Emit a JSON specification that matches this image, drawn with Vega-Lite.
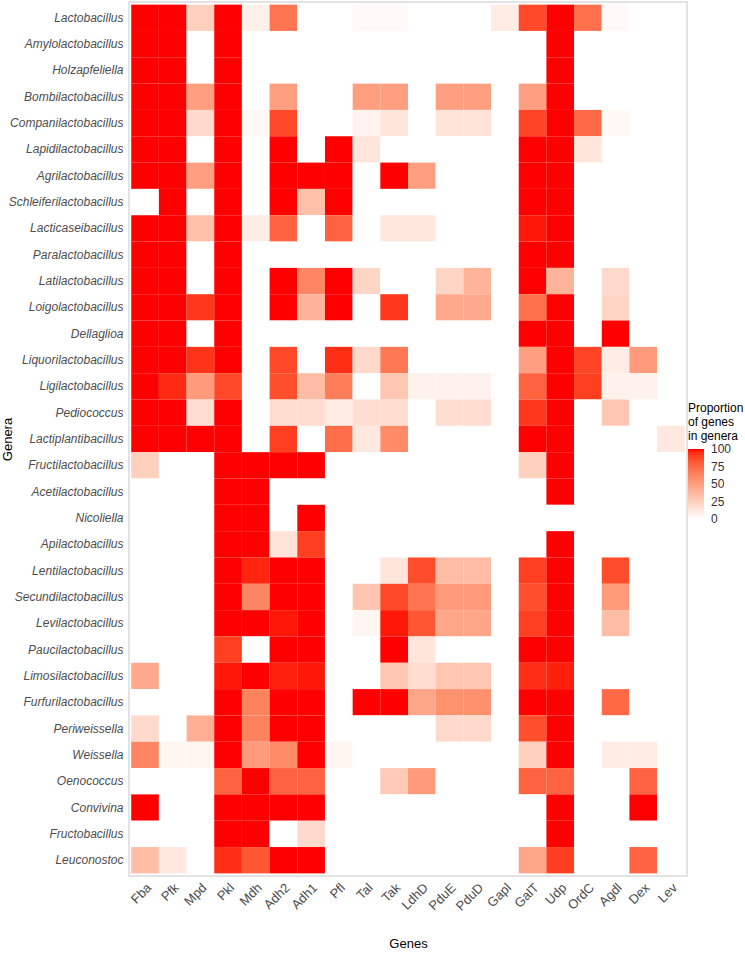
{
"$schema": "https://vega.github.io/schema/vega-lite/v6.json",
"autosize": {"type": "none"},
"padding": {"left": 129, "top": 2, "right": 58, "bottom": 79},
"width": 558,
"height": 874,
"background": "white",
"config": {
  "font": "Liberation Sans",
  "view": {"stroke": "#e3e3e3", "strokeWidth": 2}
},
"data": {"values": [
{"genus":"Lactobacillus","gene":"Fba","value":100},{"genus":"Lactobacillus","gene":"Pfk","value":100},{"genus":"Lactobacillus","gene":"Mpd","value":25},{"genus":"Lactobacillus","gene":"Pkl","value":100},{"genus":"Lactobacillus","gene":"Mdh","value":8},{"genus":"Lactobacillus","gene":"Adh2","value":70},{"genus":"Lactobacillus","gene":"Adh1","value":0},{"genus":"Lactobacillus","gene":"Pfl","value":0},{"genus":"Lactobacillus","gene":"Tal","value":3},{"genus":"Lactobacillus","gene":"Tak","value":3},{"genus":"Lactobacillus","gene":"LdhD","value":0},{"genus":"Lactobacillus","gene":"PduE","value":0},{"genus":"Lactobacillus","gene":"PduD","value":0},{"genus":"Lactobacillus","gene":"Gapl","value":10},{"genus":"Lactobacillus","gene":"GalT","value":87},{"genus":"Lactobacillus","gene":"Udp","value":100},{"genus":"Lactobacillus","gene":"OrdC","value":72},{"genus":"Lactobacillus","gene":"Agdl","value":3},{"genus":"Lactobacillus","gene":"Dex","value":0},{"genus":"Lactobacillus","gene":"Lev","value":0},
{"genus":"Amylolactobacillus","gene":"Fba","value":100},{"genus":"Amylolactobacillus","gene":"Pfk","value":100},{"genus":"Amylolactobacillus","gene":"Mpd","value":0},{"genus":"Amylolactobacillus","gene":"Pkl","value":100},{"genus":"Amylolactobacillus","gene":"Mdh","value":0},{"genus":"Amylolactobacillus","gene":"Adh2","value":0},{"genus":"Amylolactobacillus","gene":"Adh1","value":0},{"genus":"Amylolactobacillus","gene":"Pfl","value":0},{"genus":"Amylolactobacillus","gene":"Tal","value":0},{"genus":"Amylolactobacillus","gene":"Tak","value":0},{"genus":"Amylolactobacillus","gene":"LdhD","value":0},{"genus":"Amylolactobacillus","gene":"PduE","value":0},{"genus":"Amylolactobacillus","gene":"PduD","value":0},{"genus":"Amylolactobacillus","gene":"Gapl","value":0},{"genus":"Amylolactobacillus","gene":"GalT","value":0},{"genus":"Amylolactobacillus","gene":"Udp","value":100},{"genus":"Amylolactobacillus","gene":"OrdC","value":0},{"genus":"Amylolactobacillus","gene":"Agdl","value":0},{"genus":"Amylolactobacillus","gene":"Dex","value":0},{"genus":"Amylolactobacillus","gene":"Lev","value":0},
{"genus":"Holzapfeliella","gene":"Fba","value":100},{"genus":"Holzapfeliella","gene":"Pfk","value":100},{"genus":"Holzapfeliella","gene":"Mpd","value":0},{"genus":"Holzapfeliella","gene":"Pkl","value":100},{"genus":"Holzapfeliella","gene":"Mdh","value":0},{"genus":"Holzapfeliella","gene":"Adh2","value":0},{"genus":"Holzapfeliella","gene":"Adh1","value":0},{"genus":"Holzapfeliella","gene":"Pfl","value":0},{"genus":"Holzapfeliella","gene":"Tal","value":0},{"genus":"Holzapfeliella","gene":"Tak","value":0},{"genus":"Holzapfeliella","gene":"LdhD","value":0},{"genus":"Holzapfeliella","gene":"PduE","value":0},{"genus":"Holzapfeliella","gene":"PduD","value":0},{"genus":"Holzapfeliella","gene":"Gapl","value":0},{"genus":"Holzapfeliella","gene":"GalT","value":0},{"genus":"Holzapfeliella","gene":"Udp","value":100},{"genus":"Holzapfeliella","gene":"OrdC","value":0},{"genus":"Holzapfeliella","gene":"Agdl","value":0},{"genus":"Holzapfeliella","gene":"Dex","value":0},{"genus":"Holzapfeliella","gene":"Lev","value":0},
{"genus":"Bombilactobacillus","gene":"Fba","value":100},{"genus":"Bombilactobacillus","gene":"Pfk","value":100},{"genus":"Bombilactobacillus","gene":"Mpd","value":50},{"genus":"Bombilactobacillus","gene":"Pkl","value":100},{"genus":"Bombilactobacillus","gene":"Mdh","value":0},{"genus":"Bombilactobacillus","gene":"Adh2","value":50},{"genus":"Bombilactobacillus","gene":"Adh1","value":0},{"genus":"Bombilactobacillus","gene":"Pfl","value":0},{"genus":"Bombilactobacillus","gene":"Tal","value":50},{"genus":"Bombilactobacillus","gene":"Tak","value":50},{"genus":"Bombilactobacillus","gene":"LdhD","value":0},{"genus":"Bombilactobacillus","gene":"PduE","value":50},{"genus":"Bombilactobacillus","gene":"PduD","value":50},{"genus":"Bombilactobacillus","gene":"Gapl","value":0},{"genus":"Bombilactobacillus","gene":"GalT","value":50},{"genus":"Bombilactobacillus","gene":"Udp","value":100},{"genus":"Bombilactobacillus","gene":"OrdC","value":0},{"genus":"Bombilactobacillus","gene":"Agdl","value":0},{"genus":"Bombilactobacillus","gene":"Dex","value":0},{"genus":"Bombilactobacillus","gene":"Lev","value":0},
{"genus":"Companilactobacillus","gene":"Fba","value":100},{"genus":"Companilactobacillus","gene":"Pfk","value":100},{"genus":"Companilactobacillus","gene":"Mpd","value":20},{"genus":"Companilactobacillus","gene":"Pkl","value":100},{"genus":"Companilactobacillus","gene":"Mdh","value":4},{"genus":"Companilactobacillus","gene":"Adh2","value":87},{"genus":"Companilactobacillus","gene":"Adh1","value":0},{"genus":"Companilactobacillus","gene":"Pfl","value":0},{"genus":"Companilactobacillus","gene":"Tal","value":6},{"genus":"Companilactobacillus","gene":"Tak","value":14},{"genus":"Companilactobacillus","gene":"LdhD","value":0},{"genus":"Companilactobacillus","gene":"PduE","value":15},{"genus":"Companilactobacillus","gene":"PduD","value":15},{"genus":"Companilactobacillus","gene":"Gapl","value":0},{"genus":"Companilactobacillus","gene":"GalT","value":88},{"genus":"Companilactobacillus","gene":"Udp","value":100},{"genus":"Companilactobacillus","gene":"OrdC","value":75},{"genus":"Companilactobacillus","gene":"Agdl","value":4},{"genus":"Companilactobacillus","gene":"Dex","value":0},{"genus":"Companilactobacillus","gene":"Lev","value":0},
{"genus":"Lapidilactobacillus","gene":"Fba","value":100},{"genus":"Lapidilactobacillus","gene":"Pfk","value":100},{"genus":"Lapidilactobacillus","gene":"Mpd","value":0},{"genus":"Lapidilactobacillus","gene":"Pkl","value":100},{"genus":"Lapidilactobacillus","gene":"Mdh","value":0},{"genus":"Lapidilactobacillus","gene":"Adh2","value":100},{"genus":"Lapidilactobacillus","gene":"Adh1","value":0},{"genus":"Lapidilactobacillus","gene":"Pfl","value":100},{"genus":"Lapidilactobacillus","gene":"Tal","value":14},{"genus":"Lapidilactobacillus","gene":"Tak","value":0},{"genus":"Lapidilactobacillus","gene":"LdhD","value":0},{"genus":"Lapidilactobacillus","gene":"PduE","value":0},{"genus":"Lapidilactobacillus","gene":"PduD","value":0},{"genus":"Lapidilactobacillus","gene":"Gapl","value":0},{"genus":"Lapidilactobacillus","gene":"GalT","value":100},{"genus":"Lapidilactobacillus","gene":"Udp","value":100},{"genus":"Lapidilactobacillus","gene":"OrdC","value":14},{"genus":"Lapidilactobacillus","gene":"Agdl","value":0},{"genus":"Lapidilactobacillus","gene":"Dex","value":0},{"genus":"Lapidilactobacillus","gene":"Lev","value":0},
{"genus":"Agrilactobacillus","gene":"Fba","value":100},{"genus":"Agrilactobacillus","gene":"Pfk","value":100},{"genus":"Agrilactobacillus","gene":"Mpd","value":50},{"genus":"Agrilactobacillus","gene":"Pkl","value":100},{"genus":"Agrilactobacillus","gene":"Mdh","value":0},{"genus":"Agrilactobacillus","gene":"Adh2","value":100},{"genus":"Agrilactobacillus","gene":"Adh1","value":100},{"genus":"Agrilactobacillus","gene":"Pfl","value":100},{"genus":"Agrilactobacillus","gene":"Tal","value":0},{"genus":"Agrilactobacillus","gene":"Tak","value":100},{"genus":"Agrilactobacillus","gene":"LdhD","value":50},{"genus":"Agrilactobacillus","gene":"PduE","value":0},{"genus":"Agrilactobacillus","gene":"PduD","value":0},{"genus":"Agrilactobacillus","gene":"Gapl","value":0},{"genus":"Agrilactobacillus","gene":"GalT","value":100},{"genus":"Agrilactobacillus","gene":"Udp","value":100},{"genus":"Agrilactobacillus","gene":"OrdC","value":0},{"genus":"Agrilactobacillus","gene":"Agdl","value":0},{"genus":"Agrilactobacillus","gene":"Dex","value":0},{"genus":"Agrilactobacillus","gene":"Lev","value":0},
{"genus":"Schleiferilactobacillus","gene":"Fba","value":0},{"genus":"Schleiferilactobacillus","gene":"Pfk","value":100},{"genus":"Schleiferilactobacillus","gene":"Mpd","value":0},{"genus":"Schleiferilactobacillus","gene":"Pkl","value":100},{"genus":"Schleiferilactobacillus","gene":"Mdh","value":0},{"genus":"Schleiferilactobacillus","gene":"Adh2","value":100},{"genus":"Schleiferilactobacillus","gene":"Adh1","value":33},{"genus":"Schleiferilactobacillus","gene":"Pfl","value":100},{"genus":"Schleiferilactobacillus","gene":"Tal","value":0},{"genus":"Schleiferilactobacillus","gene":"Tak","value":0},{"genus":"Schleiferilactobacillus","gene":"LdhD","value":0},{"genus":"Schleiferilactobacillus","gene":"PduE","value":0},{"genus":"Schleiferilactobacillus","gene":"PduD","value":0},{"genus":"Schleiferilactobacillus","gene":"Gapl","value":0},{"genus":"Schleiferilactobacillus","gene":"GalT","value":100},{"genus":"Schleiferilactobacillus","gene":"Udp","value":100},{"genus":"Schleiferilactobacillus","gene":"OrdC","value":0},{"genus":"Schleiferilactobacillus","gene":"Agdl","value":0},{"genus":"Schleiferilactobacillus","gene":"Dex","value":0},{"genus":"Schleiferilactobacillus","gene":"Lev","value":0},
{"genus":"Lacticaseibacillus","gene":"Fba","value":100},{"genus":"Lacticaseibacillus","gene":"Pfk","value":100},{"genus":"Lacticaseibacillus","gene":"Mpd","value":33},{"genus":"Lacticaseibacillus","gene":"Pkl","value":100},{"genus":"Lacticaseibacillus","gene":"Mdh","value":10},{"genus":"Lacticaseibacillus","gene":"Adh2","value":78},{"genus":"Lacticaseibacillus","gene":"Adh1","value":0},{"genus":"Lacticaseibacillus","gene":"Pfl","value":78},{"genus":"Lacticaseibacillus","gene":"Tal","value":0},{"genus":"Lacticaseibacillus","gene":"Tak","value":13},{"genus":"Lacticaseibacillus","gene":"LdhD","value":13},{"genus":"Lacticaseibacillus","gene":"PduE","value":0},{"genus":"Lacticaseibacillus","gene":"PduD","value":0},{"genus":"Lacticaseibacillus","gene":"Gapl","value":0},{"genus":"Lacticaseibacillus","gene":"GalT","value":98},{"genus":"Lacticaseibacillus","gene":"Udp","value":100},{"genus":"Lacticaseibacillus","gene":"OrdC","value":0},{"genus":"Lacticaseibacillus","gene":"Agdl","value":0},{"genus":"Lacticaseibacillus","gene":"Dex","value":0},{"genus":"Lacticaseibacillus","gene":"Lev","value":0},
{"genus":"Paralactobacillus","gene":"Fba","value":100},{"genus":"Paralactobacillus","gene":"Pfk","value":100},{"genus":"Paralactobacillus","gene":"Mpd","value":0},{"genus":"Paralactobacillus","gene":"Pkl","value":100},{"genus":"Paralactobacillus","gene":"Mdh","value":0},{"genus":"Paralactobacillus","gene":"Adh2","value":0},{"genus":"Paralactobacillus","gene":"Adh1","value":0},{"genus":"Paralactobacillus","gene":"Pfl","value":0},{"genus":"Paralactobacillus","gene":"Tal","value":0},{"genus":"Paralactobacillus","gene":"Tak","value":0},{"genus":"Paralactobacillus","gene":"LdhD","value":0},{"genus":"Paralactobacillus","gene":"PduE","value":0},{"genus":"Paralactobacillus","gene":"PduD","value":0},{"genus":"Paralactobacillus","gene":"Gapl","value":0},{"genus":"Paralactobacillus","gene":"GalT","value":100},{"genus":"Paralactobacillus","gene":"Udp","value":100},{"genus":"Paralactobacillus","gene":"OrdC","value":0},{"genus":"Paralactobacillus","gene":"Agdl","value":0},{"genus":"Paralactobacillus","gene":"Dex","value":0},{"genus":"Paralactobacillus","gene":"Lev","value":0},
{"genus":"Latilactobacillus","gene":"Fba","value":100},{"genus":"Latilactobacillus","gene":"Pfk","value":100},{"genus":"Latilactobacillus","gene":"Mpd","value":0},{"genus":"Latilactobacillus","gene":"Pkl","value":100},{"genus":"Latilactobacillus","gene":"Mdh","value":0},{"genus":"Latilactobacillus","gene":"Adh2","value":100},{"genus":"Latilactobacillus","gene":"Adh1","value":62},{"genus":"Latilactobacillus","gene":"Pfl","value":100},{"genus":"Latilactobacillus","gene":"Tal","value":22},{"genus":"Latilactobacillus","gene":"Tak","value":0},{"genus":"Latilactobacillus","gene":"LdhD","value":0},{"genus":"Latilactobacillus","gene":"PduE","value":22},{"genus":"Latilactobacillus","gene":"PduD","value":40},{"genus":"Latilactobacillus","gene":"Gapl","value":0},{"genus":"Latilactobacillus","gene":"GalT","value":100},{"genus":"Latilactobacillus","gene":"Udp","value":40},{"genus":"Latilactobacillus","gene":"OrdC","value":0},{"genus":"Latilactobacillus","gene":"Agdl","value":20},{"genus":"Latilactobacillus","gene":"Dex","value":0},{"genus":"Latilactobacillus","gene":"Lev","value":0},
{"genus":"Loigolactobacillus","gene":"Fba","value":100},{"genus":"Loigolactobacillus","gene":"Pfk","value":100},{"genus":"Loigolactobacillus","gene":"Mpd","value":92},{"genus":"Loigolactobacillus","gene":"Pkl","value":100},{"genus":"Loigolactobacillus","gene":"Mdh","value":0},{"genus":"Loigolactobacillus","gene":"Adh2","value":100},{"genus":"Loigolactobacillus","gene":"Adh1","value":40},{"genus":"Loigolactobacillus","gene":"Pfl","value":100},{"genus":"Loigolactobacillus","gene":"Tal","value":0},{"genus":"Loigolactobacillus","gene":"Tak","value":92},{"genus":"Loigolactobacillus","gene":"LdhD","value":0},{"genus":"Loigolactobacillus","gene":"PduE","value":45},{"genus":"Loigolactobacillus","gene":"PduD","value":45},{"genus":"Loigolactobacillus","gene":"Gapl","value":0},{"genus":"Loigolactobacillus","gene":"GalT","value":72},{"genus":"Loigolactobacillus","gene":"Udp","value":100},{"genus":"Loigolactobacillus","gene":"OrdC","value":0},{"genus":"Loigolactobacillus","gene":"Agdl","value":22},{"genus":"Loigolactobacillus","gene":"Dex","value":0},{"genus":"Loigolactobacillus","gene":"Lev","value":0},
{"genus":"Dellaglioa","gene":"Fba","value":100},{"genus":"Dellaglioa","gene":"Pfk","value":100},{"genus":"Dellaglioa","gene":"Mpd","value":0},{"genus":"Dellaglioa","gene":"Pkl","value":100},{"genus":"Dellaglioa","gene":"Mdh","value":0},{"genus":"Dellaglioa","gene":"Adh2","value":0},{"genus":"Dellaglioa","gene":"Adh1","value":0},{"genus":"Dellaglioa","gene":"Pfl","value":0},{"genus":"Dellaglioa","gene":"Tal","value":0},{"genus":"Dellaglioa","gene":"Tak","value":0},{"genus":"Dellaglioa","gene":"LdhD","value":0},{"genus":"Dellaglioa","gene":"PduE","value":0},{"genus":"Dellaglioa","gene":"PduD","value":0},{"genus":"Dellaglioa","gene":"Gapl","value":0},{"genus":"Dellaglioa","gene":"GalT","value":100},{"genus":"Dellaglioa","gene":"Udp","value":100},{"genus":"Dellaglioa","gene":"OrdC","value":0},{"genus":"Dellaglioa","gene":"Agdl","value":100},{"genus":"Dellaglioa","gene":"Dex","value":0},{"genus":"Dellaglioa","gene":"Lev","value":0},
{"genus":"Liquorilactobacillus","gene":"Fba","value":100},{"genus":"Liquorilactobacillus","gene":"Pfk","value":100},{"genus":"Liquorilactobacillus","gene":"Mpd","value":93},{"genus":"Liquorilactobacillus","gene":"Pkl","value":100},{"genus":"Liquorilactobacillus","gene":"Mdh","value":0},{"genus":"Liquorilactobacillus","gene":"Adh2","value":87},{"genus":"Liquorilactobacillus","gene":"Adh1","value":0},{"genus":"Liquorilactobacillus","gene":"Pfl","value":94},{"genus":"Liquorilactobacillus","gene":"Tal","value":20},{"genus":"Liquorilactobacillus","gene":"Tak","value":68},{"genus":"Liquorilactobacillus","gene":"LdhD","value":0},{"genus":"Liquorilactobacillus","gene":"PduE","value":0},{"genus":"Liquorilactobacillus","gene":"PduD","value":0},{"genus":"Liquorilactobacillus","gene":"Gapl","value":0},{"genus":"Liquorilactobacillus","gene":"GalT","value":50},{"genus":"Liquorilactobacillus","gene":"Udp","value":100},{"genus":"Liquorilactobacillus","gene":"OrdC","value":88},{"genus":"Liquorilactobacillus","gene":"Agdl","value":10},{"genus":"Liquorilactobacillus","gene":"Dex","value":52},{"genus":"Liquorilactobacillus","gene":"Lev","value":0},
{"genus":"Ligilactobacillus","gene":"Fba","value":100},{"genus":"Ligilactobacillus","gene":"Pfk","value":95},{"genus":"Ligilactobacillus","gene":"Mpd","value":52},{"genus":"Ligilactobacillus","gene":"Pkl","value":87},{"genus":"Ligilactobacillus","gene":"Mdh","value":0},{"genus":"Ligilactobacillus","gene":"Adh2","value":85},{"genus":"Ligilactobacillus","gene":"Adh1","value":35},{"genus":"Ligilactobacillus","gene":"Pfl","value":66},{"genus":"Ligilactobacillus","gene":"Tal","value":0},{"genus":"Ligilactobacillus","gene":"Tak","value":30},{"genus":"Ligilactobacillus","gene":"LdhD","value":7},{"genus":"Ligilactobacillus","gene":"PduE","value":7},{"genus":"Ligilactobacillus","gene":"PduD","value":7},{"genus":"Ligilactobacillus","gene":"Gapl","value":0},{"genus":"Ligilactobacillus","gene":"GalT","value":78},{"genus":"Ligilactobacillus","gene":"Udp","value":100},{"genus":"Ligilactobacillus","gene":"OrdC","value":90},{"genus":"Ligilactobacillus","gene":"Agdl","value":7},{"genus":"Ligilactobacillus","gene":"Dex","value":7},{"genus":"Ligilactobacillus","gene":"Lev","value":0},
{"genus":"Pediococcus","gene":"Fba","value":100},{"genus":"Pediococcus","gene":"Pfk","value":100},{"genus":"Pediococcus","gene":"Mpd","value":18},{"genus":"Pediococcus","gene":"Pkl","value":100},{"genus":"Pediococcus","gene":"Mdh","value":0},{"genus":"Pediococcus","gene":"Adh2","value":18},{"genus":"Pediococcus","gene":"Adh1","value":18},{"genus":"Pediococcus","gene":"Pfl","value":10},{"genus":"Pediococcus","gene":"Tal","value":18},{"genus":"Pediococcus","gene":"Tak","value":18},{"genus":"Pediococcus","gene":"LdhD","value":0},{"genus":"Pediococcus","gene":"PduE","value":18},{"genus":"Pediococcus","gene":"PduD","value":18},{"genus":"Pediococcus","gene":"Gapl","value":0},{"genus":"Pediococcus","gene":"GalT","value":92},{"genus":"Pediococcus","gene":"Udp","value":100},{"genus":"Pediococcus","gene":"OrdC","value":0},{"genus":"Pediococcus","gene":"Agdl","value":30},{"genus":"Pediococcus","gene":"Dex","value":0},{"genus":"Pediococcus","gene":"Lev","value":0},
{"genus":"Lactiplantibacillus","gene":"Fba","value":100},{"genus":"Lactiplantibacillus","gene":"Pfk","value":100},{"genus":"Lactiplantibacillus","gene":"Mpd","value":100},{"genus":"Lactiplantibacillus","gene":"Pkl","value":100},{"genus":"Lactiplantibacillus","gene":"Mdh","value":0},{"genus":"Lactiplantibacillus","gene":"Adh2","value":90},{"genus":"Lactiplantibacillus","gene":"Adh1","value":0},{"genus":"Lactiplantibacillus","gene":"Pfl","value":73},{"genus":"Lactiplantibacillus","gene":"Tal","value":12},{"genus":"Lactiplantibacillus","gene":"Tak","value":60},{"genus":"Lactiplantibacillus","gene":"LdhD","value":0},{"genus":"Lactiplantibacillus","gene":"PduE","value":0},{"genus":"Lactiplantibacillus","gene":"PduD","value":0},{"genus":"Lactiplantibacillus","gene":"Gapl","value":0},{"genus":"Lactiplantibacillus","gene":"GalT","value":100},{"genus":"Lactiplantibacillus","gene":"Udp","value":100},{"genus":"Lactiplantibacillus","gene":"OrdC","value":0},{"genus":"Lactiplantibacillus","gene":"Agdl","value":0},{"genus":"Lactiplantibacillus","gene":"Dex","value":0},{"genus":"Lactiplantibacillus","gene":"Lev","value":12},
{"genus":"Fructilactobacillus","gene":"Fba","value":25},{"genus":"Fructilactobacillus","gene":"Pfk","value":0},{"genus":"Fructilactobacillus","gene":"Mpd","value":0},{"genus":"Fructilactobacillus","gene":"Pkl","value":100},{"genus":"Fructilactobacillus","gene":"Mdh","value":100},{"genus":"Fructilactobacillus","gene":"Adh2","value":100},{"genus":"Fructilactobacillus","gene":"Adh1","value":100},{"genus":"Fructilactobacillus","gene":"Pfl","value":0},{"genus":"Fructilactobacillus","gene":"Tal","value":0},{"genus":"Fructilactobacillus","gene":"Tak","value":0},{"genus":"Fructilactobacillus","gene":"LdhD","value":0},{"genus":"Fructilactobacillus","gene":"PduE","value":0},{"genus":"Fructilactobacillus","gene":"PduD","value":0},{"genus":"Fructilactobacillus","gene":"Gapl","value":0},{"genus":"Fructilactobacillus","gene":"GalT","value":25},{"genus":"Fructilactobacillus","gene":"Udp","value":100},{"genus":"Fructilactobacillus","gene":"OrdC","value":0},{"genus":"Fructilactobacillus","gene":"Agdl","value":0},{"genus":"Fructilactobacillus","gene":"Dex","value":0},{"genus":"Fructilactobacillus","gene":"Lev","value":0},
{"genus":"Acetilactobacillus","gene":"Fba","value":0},{"genus":"Acetilactobacillus","gene":"Pfk","value":0},{"genus":"Acetilactobacillus","gene":"Mpd","value":0},{"genus":"Acetilactobacillus","gene":"Pkl","value":100},{"genus":"Acetilactobacillus","gene":"Mdh","value":100},{"genus":"Acetilactobacillus","gene":"Adh2","value":0},{"genus":"Acetilactobacillus","gene":"Adh1","value":0},{"genus":"Acetilactobacillus","gene":"Pfl","value":0},{"genus":"Acetilactobacillus","gene":"Tal","value":0},{"genus":"Acetilactobacillus","gene":"Tak","value":0},{"genus":"Acetilactobacillus","gene":"LdhD","value":0},{"genus":"Acetilactobacillus","gene":"PduE","value":0},{"genus":"Acetilactobacillus","gene":"PduD","value":0},{"genus":"Acetilactobacillus","gene":"Gapl","value":0},{"genus":"Acetilactobacillus","gene":"GalT","value":0},{"genus":"Acetilactobacillus","gene":"Udp","value":100},{"genus":"Acetilactobacillus","gene":"OrdC","value":0},{"genus":"Acetilactobacillus","gene":"Agdl","value":0},{"genus":"Acetilactobacillus","gene":"Dex","value":0},{"genus":"Acetilactobacillus","gene":"Lev","value":0},
{"genus":"Nicoliella","gene":"Fba","value":0},{"genus":"Nicoliella","gene":"Pfk","value":0},{"genus":"Nicoliella","gene":"Mpd","value":0},{"genus":"Nicoliella","gene":"Pkl","value":100},{"genus":"Nicoliella","gene":"Mdh","value":100},{"genus":"Nicoliella","gene":"Adh2","value":0},{"genus":"Nicoliella","gene":"Adh1","value":100},{"genus":"Nicoliella","gene":"Pfl","value":0},{"genus":"Nicoliella","gene":"Tal","value":0},{"genus":"Nicoliella","gene":"Tak","value":0},{"genus":"Nicoliella","gene":"LdhD","value":0},{"genus":"Nicoliella","gene":"PduE","value":0},{"genus":"Nicoliella","gene":"PduD","value":0},{"genus":"Nicoliella","gene":"Gapl","value":0},{"genus":"Nicoliella","gene":"GalT","value":0},{"genus":"Nicoliella","gene":"Udp","value":0},{"genus":"Nicoliella","gene":"OrdC","value":0},{"genus":"Nicoliella","gene":"Agdl","value":0},{"genus":"Nicoliella","gene":"Dex","value":0},{"genus":"Nicoliella","gene":"Lev","value":0},
{"genus":"Apilactobacillus","gene":"Fba","value":0},{"genus":"Apilactobacillus","gene":"Pfk","value":0},{"genus":"Apilactobacillus","gene":"Mpd","value":0},{"genus":"Apilactobacillus","gene":"Pkl","value":100},{"genus":"Apilactobacillus","gene":"Mdh","value":100},{"genus":"Apilactobacillus","gene":"Adh2","value":15},{"genus":"Apilactobacillus","gene":"Adh1","value":90},{"genus":"Apilactobacillus","gene":"Pfl","value":0},{"genus":"Apilactobacillus","gene":"Tal","value":0},{"genus":"Apilactobacillus","gene":"Tak","value":0},{"genus":"Apilactobacillus","gene":"LdhD","value":0},{"genus":"Apilactobacillus","gene":"PduE","value":0},{"genus":"Apilactobacillus","gene":"PduD","value":0},{"genus":"Apilactobacillus","gene":"Gapl","value":0},{"genus":"Apilactobacillus","gene":"GalT","value":0},{"genus":"Apilactobacillus","gene":"Udp","value":100},{"genus":"Apilactobacillus","gene":"OrdC","value":0},{"genus":"Apilactobacillus","gene":"Agdl","value":0},{"genus":"Apilactobacillus","gene":"Dex","value":0},{"genus":"Apilactobacillus","gene":"Lev","value":0},
{"genus":"Lentilactobacillus","gene":"Fba","value":0},{"genus":"Lentilactobacillus","gene":"Pfk","value":0},{"genus":"Lentilactobacillus","gene":"Mpd","value":0},{"genus":"Lentilactobacillus","gene":"Pkl","value":100},{"genus":"Lentilactobacillus","gene":"Mdh","value":96},{"genus":"Lentilactobacillus","gene":"Adh2","value":100},{"genus":"Lentilactobacillus","gene":"Adh1","value":100},{"genus":"Lentilactobacillus","gene":"Pfl","value":0},{"genus":"Lentilactobacillus","gene":"Tal","value":0},{"genus":"Lentilactobacillus","gene":"Tak","value":14},{"genus":"Lentilactobacillus","gene":"LdhD","value":86},{"genus":"Lentilactobacillus","gene":"PduE","value":35},{"genus":"Lentilactobacillus","gene":"PduD","value":35},{"genus":"Lentilactobacillus","gene":"Gapl","value":0},{"genus":"Lentilactobacillus","gene":"GalT","value":90},{"genus":"Lentilactobacillus","gene":"Udp","value":100},{"genus":"Lentilactobacillus","gene":"OrdC","value":0},{"genus":"Lentilactobacillus","gene":"Agdl","value":86},{"genus":"Lentilactobacillus","gene":"Dex","value":0},{"genus":"Lentilactobacillus","gene":"Lev","value":0},
{"genus":"Secundilactobacillus","gene":"Fba","value":0},{"genus":"Secundilactobacillus","gene":"Pfk","value":0},{"genus":"Secundilactobacillus","gene":"Mpd","value":0},{"genus":"Secundilactobacillus","gene":"Pkl","value":100},{"genus":"Secundilactobacillus","gene":"Mdh","value":62},{"genus":"Secundilactobacillus","gene":"Adh2","value":100},{"genus":"Secundilactobacillus","gene":"Adh1","value":100},{"genus":"Secundilactobacillus","gene":"Pfl","value":0},{"genus":"Secundilactobacillus","gene":"Tal","value":30},{"genus":"Secundilactobacillus","gene":"Tak","value":87},{"genus":"Secundilactobacillus","gene":"LdhD","value":70},{"genus":"Secundilactobacillus","gene":"PduE","value":52},{"genus":"Secundilactobacillus","gene":"PduD","value":52},{"genus":"Secundilactobacillus","gene":"Gapl","value":0},{"genus":"Secundilactobacillus","gene":"GalT","value":85},{"genus":"Secundilactobacillus","gene":"Udp","value":100},{"genus":"Secundilactobacillus","gene":"OrdC","value":0},{"genus":"Secundilactobacillus","gene":"Agdl","value":52},{"genus":"Secundilactobacillus","gene":"Dex","value":0},{"genus":"Secundilactobacillus","gene":"Lev","value":0},
{"genus":"Levilactobacillus","gene":"Fba","value":0},{"genus":"Levilactobacillus","gene":"Pfk","value":0},{"genus":"Levilactobacillus","gene":"Mpd","value":0},{"genus":"Levilactobacillus","gene":"Pkl","value":100},{"genus":"Levilactobacillus","gene":"Mdh","value":100},{"genus":"Levilactobacillus","gene":"Adh2","value":98},{"genus":"Levilactobacillus","gene":"Adh1","value":100},{"genus":"Levilactobacillus","gene":"Pfl","value":0},{"genus":"Levilactobacillus","gene":"Tal","value":5},{"genus":"Levilactobacillus","gene":"Tak","value":98},{"genus":"Levilactobacillus","gene":"LdhD","value":82},{"genus":"Levilactobacillus","gene":"PduE","value":47},{"genus":"Levilactobacillus","gene":"PduD","value":47},{"genus":"Levilactobacillus","gene":"Gapl","value":0},{"genus":"Levilactobacillus","gene":"GalT","value":90},{"genus":"Levilactobacillus","gene":"Udp","value":100},{"genus":"Levilactobacillus","gene":"OrdC","value":0},{"genus":"Levilactobacillus","gene":"Agdl","value":35},{"genus":"Levilactobacillus","gene":"Dex","value":0},{"genus":"Levilactobacillus","gene":"Lev","value":0},
{"genus":"Paucilactobacillus","gene":"Fba","value":0},{"genus":"Paucilactobacillus","gene":"Pfk","value":0},{"genus":"Paucilactobacillus","gene":"Mpd","value":0},{"genus":"Paucilactobacillus","gene":"Pkl","value":90},{"genus":"Paucilactobacillus","gene":"Mdh","value":0},{"genus":"Paucilactobacillus","gene":"Adh2","value":100},{"genus":"Paucilactobacillus","gene":"Adh1","value":100},{"genus":"Paucilactobacillus","gene":"Pfl","value":0},{"genus":"Paucilactobacillus","gene":"Tal","value":0},{"genus":"Paucilactobacillus","gene":"Tak","value":100},{"genus":"Paucilactobacillus","gene":"LdhD","value":14},{"genus":"Paucilactobacillus","gene":"PduE","value":0},{"genus":"Paucilactobacillus","gene":"PduD","value":0},{"genus":"Paucilactobacillus","gene":"Gapl","value":0},{"genus":"Paucilactobacillus","gene":"GalT","value":100},{"genus":"Paucilactobacillus","gene":"Udp","value":100},{"genus":"Paucilactobacillus","gene":"OrdC","value":0},{"genus":"Paucilactobacillus","gene":"Agdl","value":0},{"genus":"Paucilactobacillus","gene":"Dex","value":0},{"genus":"Paucilactobacillus","gene":"Lev","value":0},
{"genus":"Limosilactobacillus","gene":"Fba","value":45},{"genus":"Limosilactobacillus","gene":"Pfk","value":0},{"genus":"Limosilactobacillus","gene":"Mpd","value":0},{"genus":"Limosilactobacillus","gene":"Pkl","value":98},{"genus":"Limosilactobacillus","gene":"Mdh","value":100},{"genus":"Limosilactobacillus","gene":"Adh2","value":97},{"genus":"Limosilactobacillus","gene":"Adh1","value":98},{"genus":"Limosilactobacillus","gene":"Pfl","value":0},{"genus":"Limosilactobacillus","gene":"Tal","value":0},{"genus":"Limosilactobacillus","gene":"Tak","value":30},{"genus":"Limosilactobacillus","gene":"LdhD","value":18},{"genus":"Limosilactobacillus","gene":"PduE","value":30},{"genus":"Limosilactobacillus","gene":"PduD","value":30},{"genus":"Limosilactobacillus","gene":"Gapl","value":0},{"genus":"Limosilactobacillus","gene":"GalT","value":94},{"genus":"Limosilactobacillus","gene":"Udp","value":97},{"genus":"Limosilactobacillus","gene":"OrdC","value":0},{"genus":"Limosilactobacillus","gene":"Agdl","value":0},{"genus":"Limosilactobacillus","gene":"Dex","value":0},{"genus":"Limosilactobacillus","gene":"Lev","value":0},
{"genus":"Furfurilactobacillus","gene":"Fba","value":0},{"genus":"Furfurilactobacillus","gene":"Pfk","value":0},{"genus":"Furfurilactobacillus","gene":"Mpd","value":0},{"genus":"Furfurilactobacillus","gene":"Pkl","value":100},{"genus":"Furfurilactobacillus","gene":"Mdh","value":64},{"genus":"Furfurilactobacillus","gene":"Adh2","value":100},{"genus":"Furfurilactobacillus","gene":"Adh1","value":100},{"genus":"Furfurilactobacillus","gene":"Pfl","value":0},{"genus":"Furfurilactobacillus","gene":"Tal","value":100},{"genus":"Furfurilactobacillus","gene":"Tak","value":100},{"genus":"Furfurilactobacillus","gene":"LdhD","value":47},{"genus":"Furfurilactobacillus","gene":"PduE","value":57},{"genus":"Furfurilactobacillus","gene":"PduD","value":57},{"genus":"Furfurilactobacillus","gene":"Gapl","value":0},{"genus":"Furfurilactobacillus","gene":"GalT","value":100},{"genus":"Furfurilactobacillus","gene":"Udp","value":100},{"genus":"Furfurilactobacillus","gene":"OrdC","value":0},{"genus":"Furfurilactobacillus","gene":"Agdl","value":75},{"genus":"Furfurilactobacillus","gene":"Dex","value":0},{"genus":"Furfurilactobacillus","gene":"Lev","value":0},
{"genus":"Periweissella","gene":"Fba","value":20},{"genus":"Periweissella","gene":"Pfk","value":0},{"genus":"Periweissella","gene":"Mpd","value":42},{"genus":"Periweissella","gene":"Pkl","value":100},{"genus":"Periweissella","gene":"Mdh","value":64},{"genus":"Periweissella","gene":"Adh2","value":100},{"genus":"Periweissella","gene":"Adh1","value":100},{"genus":"Periweissella","gene":"Pfl","value":0},{"genus":"Periweissella","gene":"Tal","value":0},{"genus":"Periweissella","gene":"Tak","value":0},{"genus":"Periweissella","gene":"LdhD","value":0},{"genus":"Periweissella","gene":"PduE","value":20},{"genus":"Periweissella","gene":"PduD","value":20},{"genus":"Periweissella","gene":"Gapl","value":0},{"genus":"Periweissella","gene":"GalT","value":85},{"genus":"Periweissella","gene":"Udp","value":100},{"genus":"Periweissella","gene":"OrdC","value":0},{"genus":"Periweissella","gene":"Agdl","value":0},{"genus":"Periweissella","gene":"Dex","value":0},{"genus":"Periweissella","gene":"Lev","value":0},
{"genus":"Weissella","gene":"Fba","value":62},{"genus":"Weissella","gene":"Pfk","value":5},{"genus":"Weissella","gene":"Mpd","value":5},{"genus":"Weissella","gene":"Pkl","value":100},{"genus":"Weissella","gene":"Mdh","value":52},{"genus":"Weissella","gene":"Adh2","value":60},{"genus":"Weissella","gene":"Adh1","value":100},{"genus":"Weissella","gene":"Pfl","value":5},{"genus":"Weissella","gene":"Tal","value":0},{"genus":"Weissella","gene":"Tak","value":0},{"genus":"Weissella","gene":"LdhD","value":0},{"genus":"Weissella","gene":"PduE","value":0},{"genus":"Weissella","gene":"PduD","value":0},{"genus":"Weissella","gene":"Gapl","value":0},{"genus":"Weissella","gene":"GalT","value":25},{"genus":"Weissella","gene":"Udp","value":100},{"genus":"Weissella","gene":"OrdC","value":0},{"genus":"Weissella","gene":"Agdl","value":10},{"genus":"Weissella","gene":"Dex","value":10},{"genus":"Weissella","gene":"Lev","value":0},
{"genus":"Oenococcus","gene":"Fba","value":0},{"genus":"Oenococcus","gene":"Pfk","value":0},{"genus":"Oenococcus","gene":"Mpd","value":0},{"genus":"Oenococcus","gene":"Pkl","value":78},{"genus":"Oenococcus","gene":"Mdh","value":100},{"genus":"Oenococcus","gene":"Adh2","value":78},{"genus":"Oenococcus","gene":"Adh1","value":78},{"genus":"Oenococcus","gene":"Pfl","value":0},{"genus":"Oenococcus","gene":"Tal","value":0},{"genus":"Oenococcus","gene":"Tak","value":28},{"genus":"Oenococcus","gene":"LdhD","value":52},{"genus":"Oenococcus","gene":"PduE","value":0},{"genus":"Oenococcus","gene":"PduD","value":0},{"genus":"Oenococcus","gene":"Gapl","value":0},{"genus":"Oenococcus","gene":"GalT","value":78},{"genus":"Oenococcus","gene":"Udp","value":78},{"genus":"Oenococcus","gene":"OrdC","value":0},{"genus":"Oenococcus","gene":"Agdl","value":0},{"genus":"Oenococcus","gene":"Dex","value":78},{"genus":"Oenococcus","gene":"Lev","value":0},
{"genus":"Convivina","gene":"Fba","value":100},{"genus":"Convivina","gene":"Pfk","value":0},{"genus":"Convivina","gene":"Mpd","value":0},{"genus":"Convivina","gene":"Pkl","value":100},{"genus":"Convivina","gene":"Mdh","value":100},{"genus":"Convivina","gene":"Adh2","value":100},{"genus":"Convivina","gene":"Adh1","value":100},{"genus":"Convivina","gene":"Pfl","value":0},{"genus":"Convivina","gene":"Tal","value":0},{"genus":"Convivina","gene":"Tak","value":0},{"genus":"Convivina","gene":"LdhD","value":0},{"genus":"Convivina","gene":"PduE","value":0},{"genus":"Convivina","gene":"PduD","value":0},{"genus":"Convivina","gene":"Gapl","value":0},{"genus":"Convivina","gene":"GalT","value":0},{"genus":"Convivina","gene":"Udp","value":100},{"genus":"Convivina","gene":"OrdC","value":0},{"genus":"Convivina","gene":"Agdl","value":0},{"genus":"Convivina","gene":"Dex","value":100},{"genus":"Convivina","gene":"Lev","value":0},
{"genus":"Fructobacillus","gene":"Fba","value":0},{"genus":"Fructobacillus","gene":"Pfk","value":0},{"genus":"Fructobacillus","gene":"Mpd","value":0},{"genus":"Fructobacillus","gene":"Pkl","value":100},{"genus":"Fructobacillus","gene":"Mdh","value":100},{"genus":"Fructobacillus","gene":"Adh2","value":0},{"genus":"Fructobacillus","gene":"Adh1","value":20},{"genus":"Fructobacillus","gene":"Pfl","value":0},{"genus":"Fructobacillus","gene":"Tal","value":0},{"genus":"Fructobacillus","gene":"Tak","value":0},{"genus":"Fructobacillus","gene":"LdhD","value":0},{"genus":"Fructobacillus","gene":"PduE","value":0},{"genus":"Fructobacillus","gene":"PduD","value":0},{"genus":"Fructobacillus","gene":"Gapl","value":0},{"genus":"Fructobacillus","gene":"GalT","value":0},{"genus":"Fructobacillus","gene":"Udp","value":100},{"genus":"Fructobacillus","gene":"OrdC","value":0},{"genus":"Fructobacillus","gene":"Agdl","value":0},{"genus":"Fructobacillus","gene":"Dex","value":0},{"genus":"Fructobacillus","gene":"Lev","value":0},
{"genus":"Leuconostoc","gene":"Fba","value":35},{"genus":"Leuconostoc","gene":"Pfk","value":12},{"genus":"Leuconostoc","gene":"Mpd","value":0},{"genus":"Leuconostoc","gene":"Pkl","value":94},{"genus":"Leuconostoc","gene":"Mdh","value":82},{"genus":"Leuconostoc","gene":"Adh2","value":100},{"genus":"Leuconostoc","gene":"Adh1","value":100},{"genus":"Leuconostoc","gene":"Pfl","value":0},{"genus":"Leuconostoc","gene":"Tal","value":0},{"genus":"Leuconostoc","gene":"Tak","value":0},{"genus":"Leuconostoc","gene":"LdhD","value":0},{"genus":"Leuconostoc","gene":"PduE","value":0},{"genus":"Leuconostoc","gene":"PduD","value":0},{"genus":"Leuconostoc","gene":"Gapl","value":0},{"genus":"Leuconostoc","gene":"GalT","value":47},{"genus":"Leuconostoc","gene":"Udp","value":90},{"genus":"Leuconostoc","gene":"OrdC","value":0},{"genus":"Leuconostoc","gene":"Agdl","value":0},{"genus":"Leuconostoc","gene":"Dex","value":78},{"genus":"Leuconostoc","gene":"Lev","value":0}
]},
"mark": {"type": "rect"},
"encoding": {
  "x": {
    "field": "gene", "type": "nominal", "sort": null,
    "scale": {"paddingInner": 0, "paddingOuter": 0.08},
    "axis": {"title": "Genes", "labelAngle": -45, "labelFontSize": 13, "labelColor": "#4d4d4d", "ticks": false, "domain": false, "labelPadding": 5, "titleFontSize": 13, "titleFontWeight": "normal", "titleColor": "#000000", "titleY": 61}
  },
  "y": {
    "field": "genus", "type": "nominal", "sort": null,
    "scale": {"paddingInner": 0, "paddingOuter": 0.1},
    "axis": {"title": "Genera", "labelFontSize": 12, "labelFontStyle": "italic", "labelColor": "#4d4d4d", "ticks": false, "domain": false, "labelPadding": 6, "titleFontSize": 13, "titleFontWeight": "normal", "titleColor": "#000000", "titleX": -115, "titleY": 437}
  },
  "color": {
    "field": "value", "type": "quantitative",
    "scale": {"domain": [0, 100], "range": ["#ffffff", "#ff0000"], "interpolate": "lab"},
    "legend": {
      "title": ["Proportion", "of genes", "in genera"],
      "orient": "none", "legendX": 559, "legendY": 401,
      "titleFontSize": 12, "titleFontWeight": "normal", "titleColor": "#000000", "titleLineHeight": 14, "titlePadding": 6,
      "gradientLength": 70, "gradientThickness": 16, "gradientStrokeWidth": 0,
      "values": [0, 25, 50, 75, 100], "labelOverlap": false,
      "labelFontSize": 12, "labelColor": "#333333", "labelOffset": 7,
      "encode": {"labels": {"update": {"baseline": {"value": "middle"}, "align": {"value": "left"}}}}
    }
  }
}
}
